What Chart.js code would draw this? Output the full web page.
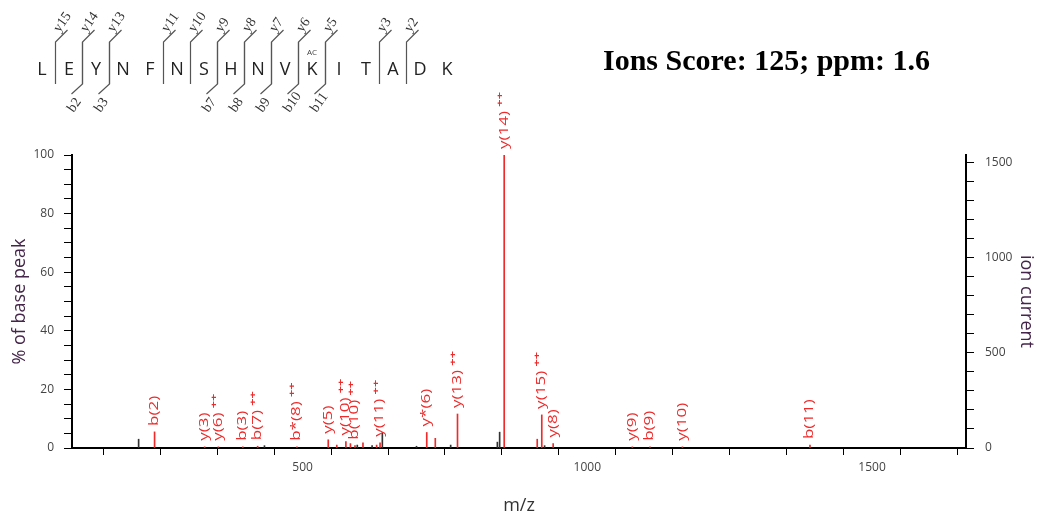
<!DOCTYPE html>
<html>
<head>
<meta charset="utf-8">
<title>MS/MS spectrum</title>
<script src="https://cdn.jsdelivr.net/npm/chart.js@4.4.1/dist/chart.umd.min.js"></script>
<style>
  html, body { margin: 0; padding: 0; background: #fff; }
  #wrap { width: 1037px; height: 518px; }
</style>
</head>
<body>
<div id="wrap"><canvas id="spectrum" width="1037" height="518"></canvas></div>
<script>
// peptide and fragment coverage
const sequence = ['L','E','Y','N','F','N','S','H','N','V','K','I','T','A','D','K'];
const yIons = [15, 14, 13, 11, 10, 9, 8, 7, 6, 5, 3, 2];
const bIons = [2, 3, 7, 8, 9, 10, 11];
const acetylSite = 11;            // acetyl-K, 1-based
const scoreText = 'Ions Score: 125; ppm: 1.6';

// matched fragment peaks (m/z, % of base peak)
const ionLabels = ['b(2)','y(3)','y(6)','b(3)','b(7)','b*(8)','y(5)','y(10)','b(10)','y(11)','y*(6)','y(13)','y(14)','y(15)','y(8)','y(9)','b(9)','y(10)','b(11)'];
const ionCharge = [1, 1, 2, 1, 2, 2, 1, 2, 2, 2, 1, 2, 2, 2, 1, 1, 1, 1, 1];
const ionMz     = [240, 328, 352, 395, 421, 490, 545, 576, 592, 636, 718, 772, 854, 920, 940, 1079, 1110, 1167, 1391];
const ionPct    = [5.5, 0.4, 0.4, 0.4, 0.6, 0.4, 2.8, 2.2, 0.8, 1.8, 5.3, 11.6, 100, 11.3, 1.5, 0.4, 0.4, 0.4, 1.0];

// other matched peaks without a label
const minorMz  = [560, 584, 606, 630, 733, 912];
const minorPct = [1.0, 1.5, 1.8, 1.0, 3.3, 3.0];

// unassigned peaks
const otherMz  = [212, 433, 596, 622, 640, 700, 760, 842, 846, 925];
const otherPct = [3.0, 0.8, 1.0, 0.8, 5.0, 0.6, 1.0, 2.0, 5.4, 0.8];

// axes
const mzMin = 95, mzMax = 1665;
const mzTicks = [200, 300, 400, 500, 600, 700, 800, 900, 1000, 1100, 1200, 1300, 1400, 1500, 1600];
const mzLabelled = [500, 1000, 1500];
const pctTicks = [0, 5, 10, 15, 20, 25, 30, 35, 40, 45, 50, 55, 60, 65, 70, 75, 80, 85, 90, 95, 100];
const pctLabelled = [0, 20, 40, 60, 80, 100];
const baseCurrent = 1542;         // ion current of the base peak
const currentTicks = [0, 100, 200, 300, 400, 500, 600, 700, 800, 900, 1000, 1100, 1200, 1300, 1400, 1500];
const currentLabelled = [0, 500, 1000, 1500];

const SANS = '"Open Sans", "Noto Sans", sans-serif';
const SERIF = '"Liberation Serif", "DejaVu Serif", serif';
const RED = '#ee2a2a';

const toPoints = (xs, ys) => xs.map((x, i) => ({ x: x, y: ys[i] }));

// rotated peak annotations above each matched peak
const peakLabels = {
  id: 'peakLabels',
  afterDatasetsDraw(chart) {
    const { ctx, scales: { x, y } } = chart;
    ionMz.forEach((mz, i) => {
      const px = x.getPixelForValue(mz);
      const top = y.getPixelForValue(ionPct[i]);
      ctx.save();
      ctx.translate(px, top - 6);
      ctx.rotate(-Math.PI / 2);
      ctx.scale(1.42, 1);
      ctx.fillStyle = RED;
      ctx.textBaseline = 'middle';
      ctx.textAlign = 'left';
      ctx.font = '12px ' + SANS;
      ctx.fillText(ionLabels[i], 0, 0);
      if (ionCharge[i] === 2) {
        const w = ctx.measureText(ionLabels[i]).width;
        ctx.font = 'bold 9px ' + SANS;
        ctx.fillText('++', w + 3, -4);
      }
      ctx.restore();
    });
  }
};

// sequence with cleavage markers and score
const header = {
  id: 'header',
  afterDraw(chart) {
    const ctx = chart.ctx;
    const x0 = 42, step = 27, base = 75;
    ctx.save();
    ctx.fillStyle = '#222';
    ctx.font = '18px ' + SANS;
    ctx.textAlign = 'center';
    ctx.textBaseline = 'alphabetic';
    sequence.forEach((aa, i) => ctx.fillText(aa, x0 + i * step, base));

    ctx.fillStyle = '#444';
    ctx.font = '8px ' + SANS;
    ctx.fillText('AC', x0 + (acetylSite - 1) * step, 55);

    ctx.strokeStyle = '#555';
    ctx.lineWidth = 1.2;
    ctx.fillStyle = '#333';
    ctx.font = '14px ' + SERIF;
    ctx.textAlign = 'left';
    const gapX = after => x0 + (after - 1) * step + step / 2;

    yIons.forEach(n => {
      const gx = gapX(sequence.length - n);
      ctx.beginPath();
      ctx.moveTo(gx, 84); ctx.lineTo(gx, 42); ctx.lineTo(gx + 12, 30);
      ctx.stroke();
      ctx.save();
      ctx.translate(gx + 4, 33);
      ctx.rotate(-55 * Math.PI / 180);
      ctx.fillText('y' + n, 0, 0);
      ctx.restore();
    });
    bIons.forEach(n => {
      const gx = gapX(n);
      ctx.beginPath();
      ctx.moveTo(gx, 42); ctx.lineTo(gx, 84); ctx.lineTo(gx - 11, 94);
      ctx.stroke();
      ctx.save();
      ctx.translate(gx - 9, 113);
      ctx.rotate(-55 * Math.PI / 180);
      ctx.fillText('b' + n, 0, 0);
      ctx.restore();
    });

    // score, squeezed to the printed width
    ctx.fillStyle = '#000';
    ctx.font = 'bold 30px ' + SERIF;
    const w = ctx.measureText(scoreText).width;
    ctx.translate(603, 70);
    ctx.scale(327 / w, 1);
    ctx.fillText(scoreText, 0, 0);
    ctx.restore();
  }
};

const tickStyle = { color: '#444', font: { family: SANS, size: 12 } };
const gridStyle = { drawOnChartArea: false, drawTicks: true, tickLength: 8, tickColor: '#000', tickWidth: 1 };
const borderStyle = { display: true, color: '#000', width: 2 };

new Chart(document.getElementById('spectrum'), {
  type: 'bar',
  data: {
    datasets: [
      { label: 'matched', data: toPoints(ionMz, ionPct), backgroundColor: RED },
      { label: 'matched, unlabelled', data: toPoints(minorMz, minorPct), backgroundColor: RED },
      { label: 'unassigned', data: toPoints(otherMz, otherPct), backgroundColor: '#333' }
    ]
  },
  options: {
    responsive: false,
    devicePixelRatio: 1,
    animation: false,
    layout: { padding: { top: 155, left: 0, right: 0, bottom: 0 } },
    datasets: { bar: { barThickness: 1, grouped: false } },
    plugins: { legend: { display: false }, tooltip: { enabled: false } },
    scales: {
      x: {
        type: 'linear', min: mzMin, max: mzMax, offset: false,
        afterBuildTicks: s => { s.ticks = mzTicks.map(v => ({ value: v })); },
        afterFit: s => { s.height = 70; },
        ticks: { ...tickStyle, autoSkip: false, maxRotation: 0, padding: 5,
                 callback: v => mzLabelled.includes(v) ? String(v) : '' },
        grid: { ...gridStyle, tickLength: 7 },
        border: borderStyle,
        title: { display: true, text: 'm/z', color: '#333', font: { family: SANS, size: 18 }, padding: { top: 0, bottom: 1 } }
      },
      y: {
        position: 'left', min: 0, max: 100,
        afterBuildTicks: s => { s.ticks = pctTicks.map(v => ({ value: v })); },
        afterFit: s => { s.width = 72; },
        ticks: { ...tickStyle, autoSkip: false, padding: 10,
                 callback: v => pctLabelled.includes(v) ? String(v) : '' },
        grid: gridStyle,
        border: borderStyle,
        title: { display: true, text: '% of base peak', color: '#45254a', font: { family: SANS, size: 18 }, padding: { top: 9, bottom: 0 } }
      },
      y2: {
        position: 'right', min: 0, max: baseCurrent,
        afterBuildTicks: s => { s.ticks = currentTicks.map(v => ({ value: v })); },
        afterFit: s => { s.width = 71; },
        ticks: { ...tickStyle, autoSkip: false, padding: 11,
                 callback: v => currentLabelled.includes(v) ? String(v) : '' },
        grid: gridStyle,
        border: borderStyle,
        title: { display: true, text: 'ion current', color: '#45254a', font: { family: SANS, size: 18 }, padding: { top: 0, bottom: 0 } }
      }
    }
  },
  plugins: [peakLabels, header]
});
</script>
</body>
</html>
